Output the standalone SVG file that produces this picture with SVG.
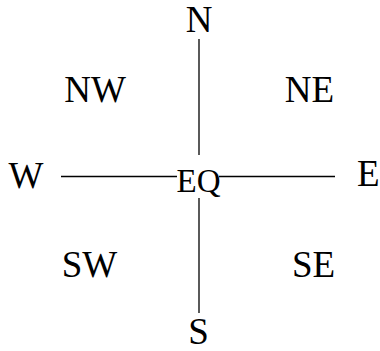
<svg xmlns="http://www.w3.org/2000/svg" width="380" height="351" viewBox="0 0 380 351">
<style>
text{font-family:"Liberation Serif","Times New Roman",serif;fill:#000;font-size:37px;text-anchor:middle}
.eq{font-size:33px}
line{stroke:#000;stroke-width:1.3}
</style>
<rect width="380" height="351" fill="#fff"/>
<g id="connectors">
<line x1="199" y1="39" x2="199" y2="155"/>
<line x1="199" y1="198" x2="199" y2="313"/>
<line x1="61" y1="176.5" x2="177" y2="176.5"/>
<line x1="219" y1="176.5" x2="335" y2="176.5"/>
</g>
<g id="N"><text x="199" y="32">N</text></g>
<g id="NW"><text x="95" y="102">NW</text></g>
<g id="NE"><text x="309.5" y="102">NE</text></g>
<g id="W"><text x="26" y="188">W</text></g>
<g id="EQ"><text class="eq" x="198.5" y="192">EQ</text></g>
<g id="E"><text x="357" y="186" style="text-anchor:start">E</text></g>
<g id="SW"><text x="89.5" y="277">SW</text></g>
<g id="SE"><text x="313.5" y="277">SE</text></g>
<g id="S"><text x="198.5" y="344">S</text></g>
</svg>
